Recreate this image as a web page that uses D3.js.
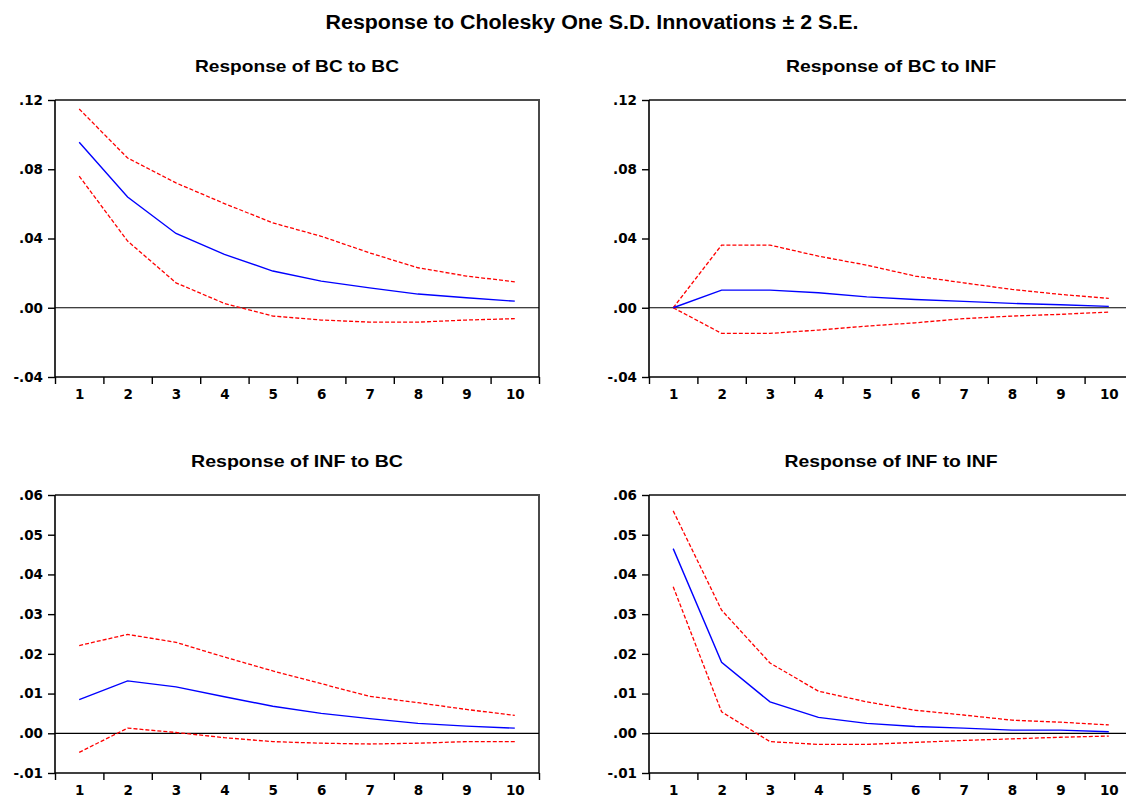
<!DOCTYPE html>
<html>
<head>
<meta charset="utf-8">
<script src="https://cdn.jsdelivr.net/npm/d3@7"></script>
<style>
  body { margin: 0; background: #fff; }
  svg { display: block; }
  .tick text { font-family: "DejaVu Sans", sans-serif; font-weight: bold; font-size: 13.5px; fill: #000; }
</style>
</head>
<body>
<svg id="chart" width="1126" height="797"></svg>
<script>
const periods = [1, 2, 3, 4, 5, 6, 7, 8, 9, 10];

// Response of BC to BC
const bcToBc    = [0.0956, 0.0640, 0.0429, 0.0308, 0.0212, 0.0154, 0.0115, 0.0079, 0.0058, 0.0038];
const bcToBcUp  = [0.1148, 0.0865, 0.0721, 0.0602, 0.0490, 0.0413, 0.0317, 0.0231, 0.0183, 0.0150];
const bcToBcLo  = [0.0760, 0.0385, 0.0144, 0.0025, -0.0048, -0.0071, -0.0083, -0.0083, -0.0071, -0.0063];

// Response of BC to INF
const bcToInf   = [0.0000, 0.0102, 0.0102, 0.0087, 0.0063, 0.0048, 0.0037, 0.0025, 0.0017, 0.0008];
const bcToInfUp = [0.0000, 0.0362, 0.0362, 0.0298, 0.0246, 0.0183, 0.0144, 0.0106, 0.0077, 0.0054];
const bcToInfLo = [0.0000, -0.0148, -0.0148, -0.0129, -0.0106, -0.0087, -0.0063, -0.0048, -0.0038, -0.0025];

// Response of INF to BC
const infToBc   = [0.0085, 0.0132, 0.0117, 0.0092, 0.0068, 0.0050, 0.0037, 0.0025, 0.0018, 0.0013];
const infToBcUp = [0.0221, 0.0249, 0.0229, 0.0192, 0.0157, 0.0125, 0.0093, 0.0077, 0.0060, 0.0045];
const infToBcLo = [-0.0048, 0.0013, 0.0002, -0.0011, -0.0021, -0.0025, -0.0027, -0.0025, -0.0021, -0.0021];

// Response of INF to INF
const infToInf   = [0.0465, 0.0179, 0.0079, 0.0040, 0.0025, 0.0017, 0.0013, 0.0008, 0.0008, 0.0004];
const infToInfUp = [0.0560, 0.0310, 0.0177, 0.0106, 0.0079, 0.0058, 0.0046, 0.0033, 0.0028, 0.0021];
const infToInfLo = [0.0369, 0.0054, -0.0021, -0.0028, -0.0028, -0.0023, -0.0018, -0.0014, -0.0010, -0.0007];

const ticksTop    = [-0.04, 0.00, 0.04, 0.08, 0.12];
const ticksBottom = [-0.01, 0.00, 0.01, 0.02, 0.03, 0.04, 0.05, 0.06];

const mainTitle = "Response to Cholesky One S.D. Innovations \u00b1 2 S.E.";

const panels = [
  { title: "Response of BC to BC",   resp: bcToBc,   up: bcToBcUp,   lo: bcToBcLo,   ticks: ticksTop,    left: 55,  top: 100, h: 277, tw: 204 },
  { title: "Response of BC to INF",  resp: bcToInf,  up: bcToInfUp,  lo: bcToInfLo,  ticks: ticksTop,    left: 649, top: 100, h: 277, tw: 210 },
  { title: "Response of INF to BC",  resp: infToBc,  up: infToBcUp,  lo: infToBcLo,  ticks: ticksBottom, left: 55,  top: 495, h: 278, tw: 212 },
  { title: "Response of INF to INF", resp: infToInf, up: infToInfUp, lo: infToInfLo, ticks: ticksBottom, left: 649, top: 495, h: 278, tw: 213 }
];

const svg = d3.select("#chart");
const panelWidth = 484;

svg.append("text")
  .attr("x", 592)
  .attr("y", 29)
  .attr("text-anchor", "middle")
  .attr("textLength", 533)
  .attr("lengthAdjust", "spacingAndGlyphs")
  .style("font-family", "'Liberation Sans', Arial, sans-serif")
  .style("font-weight", "bold")
  .style("font-size", "20px")
  .text(mainTitle);

// EViews style labels: .12, .00, -.04
const yFmt = v => d3.format(".2f")(v).replace("\u2212", "-").replace("0.", ".");

panels.forEach(p => {
  const width = panelWidth, height = p.h;
  const g = svg.append("g").attr("transform", `translate(${p.left},${p.top})`);

  const x = d3.scaleLinear().domain([0.5, 10.5]).range([0, width]);
  const y = d3.scaleLinear()
    .domain([d3.min(p.ticks), d3.max(p.ticks)])
    .range([height, 0]);

  svg.append("text")
    .attr("x", p.left + width / 2)
    .attr("y", p.top - 28)
    .attr("text-anchor", "middle")
    .attr("textLength", p.tw)
    .attr("lengthAdjust", "spacingAndGlyphs")
    .style("font-family", "'Liberation Sans', Arial, sans-serif")
    .style("font-weight", "bold")
    .style("font-size", "16.5px")
    .text(p.title);

  // top and right frame
  g.append("path")
    .attr("d", `M0,0H${width}V${height}`)
    .attr("fill", "none")
    .attr("stroke", "#4a4a4a")
    .attr("stroke-width", 2);

  // zero line
  g.append("line")
    .attr("x1", 0).attr("x2", width)
    .attr("y1", y(0)).attr("y2", y(0))
    .attr("stroke", "#000")
    .attr("stroke-width", 1.2);

  const line = d3.line()
    .x((d, i) => x(periods[i]))
    .y(d => y(d));

  [p.up, p.lo].forEach(s => {
    g.append("path")
      .datum(s)
      .attr("d", line)
      .attr("fill", "none")
      .attr("stroke", "#ff0000")
      .attr("stroke-width", 1.3)
      .attr("stroke-dasharray", "4,2");
  });

  g.append("path")
    .datum(p.resp)
    .attr("d", line)
    .attr("fill", "none")
    .attr("stroke", "#0000ff")
    .attr("stroke-width", 1.4);

  // y axis
  const ya = g.append("g")
    .call(d3.axisLeft(y).tickValues(p.ticks).tickSize(7).tickPadding(5).tickFormat(yFmt));
  ya.select(".domain").attr("stroke-width", 1.6).attr("d", `M0,0V${height}`);
  ya.selectAll(".tick line").attr("stroke-width", 1.4);

  // x axis: ticks at band edges, labels at period centres
  const xa = g.append("g")
    .attr("transform", `translate(0,${height})`)
    .call(d3.axisBottom(x).tickValues(d3.range(0.5, 11, 1)).tickSize(7).tickFormat(""));
  xa.select(".domain").attr("stroke-width", 1.6).attr("d", `M0,0H${width}`);
  xa.selectAll(".tick line").attr("stroke-width", 1.4);

  const xl = g.append("g")
    .attr("transform", `translate(0,${height})`)
    .call(d3.axisBottom(x).tickValues(periods).tickSize(0).tickPadding(12).tickFormat(d3.format("d")));
  xl.select(".domain").remove();
});
</script>
</body>
</html>
